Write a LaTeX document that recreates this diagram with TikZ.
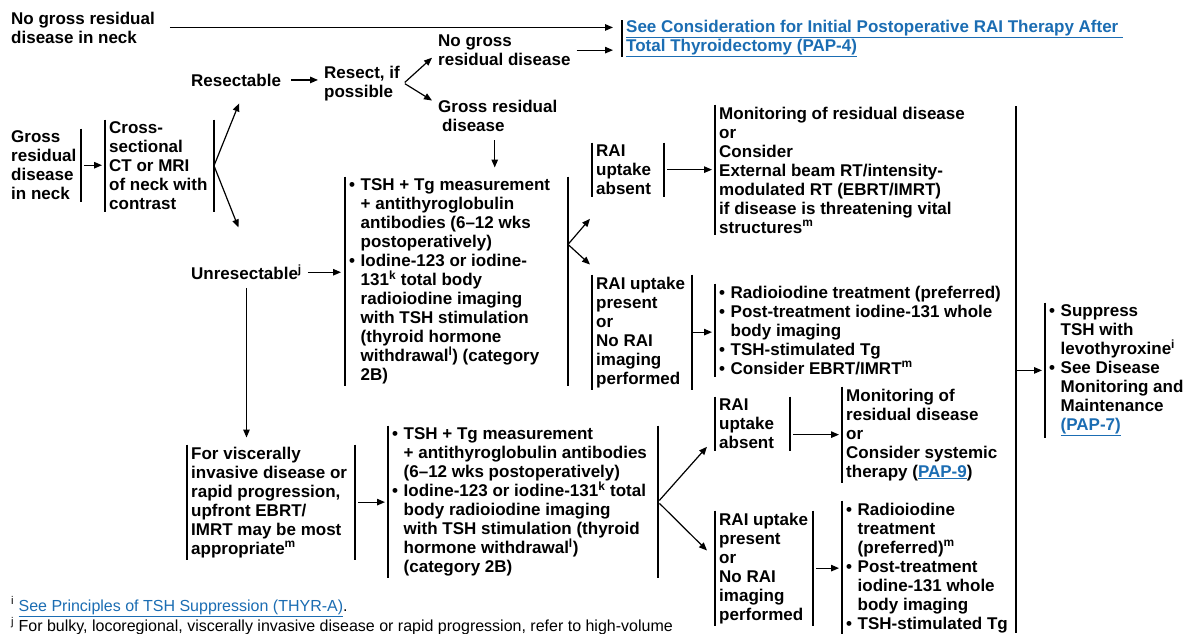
\documentclass[tikz,border=0pt]{standalone}
\usepackage{fontspec}
\setmainfont{Liberation Sans}
\usepackage{tikz}
\usetikzlibrary{arrows.meta,calc}
\definecolor{linkblue}{HTML}{1B6DB3}
\newcommand{\lnk}[1]{\textcolor{linkblue}{\underline{#1}}}
\newlength{\bulw}\setlength{\bulw}{11.5pt}
\newcommand{\itm}{\makebox[\bulw][l]{\textbullet}}
\newcommand{\ind}{\hspace*{\bulw}}
\newcommand{\sups}[1]{\textsuperscript{#1}}
\tikzset{
  txt/.style={
    anchor=north west,
    align=left,
    inner xsep=4pt,
    inner ysep=2pt,
    font=\fontsize{17}{19}\selectfont\bfseries
  },
  bar/.style={draw, line width=1.4pt},
  lbar/.style={
    txt,
    append after command={(\tikzlastnode.north west) edge[bar] (\tikzlastnode.south west)}
  },
  rbar/.style={
    txt,
    append after command={([xshift=#1]\tikzlastnode.north west) edge[bar] ([xshift=#1]\tikzlastnode.south west)
      ([xshift=#1]\tikzlastnode.west) coordinate (\tikzlastnode-r)}
  },
  bars/.style={lbar, rbar=#1},
  arr/.style={-{Triangle[length=8pt,width=6.5pt]}, line width=1.2pt, shorten <=3pt, shorten >=3pt}
}

\begin{document}
\begin{tikzpicture}[x=1pt, y=-1pt]
\useasboundingbox[fill=white] (0,0) rectangle (1199,633);

\node[txt] (nogross) at (7,9.5) {No gross residual\\disease in neck};
\node[lbar, inner ysep=0pt] (pap4) at (622,20) {\lnk{See Consideration for Initial Postoperative RAI Therapy After }\\\lnk{Total Thyroidectomy (PAP-4)}};

\node[txt] (resectable) at (187,71.5) {Resectable};
\node[txt] (resect) at (320,63.5) {Resect, if\\possible};
\node[txt] (ngres) at (434,32.5) {No gross\\residual disease};
\node[txt] (gres) at (434,97.5) {Gross residual\\\hspace*{4pt}disease};

\node[rbar=74pt] (gross) at (7,128.5) {Gross\\residual\\disease\\in neck};
\node[bars=109pt] (ct) at (105,119.5) {Cross-\\sectional\\CT or MRI\\of neck with\\contrast};
\node[txt] (unres) at (187,262.5) {Unresectable\sups{j}};

\node[bars=223pt] (tsh1) at (345,176.5) {\itm TSH + Tg measurement\\\ind + antithyroglobulin\\\ind antibodies (6--12 wks\\\ind postoperatively)\\\itm Iodine-123 or iodine-\\\ind 131\sups{k} total body\\\ind radioiodine imaging\\\ind with TSH stimulation\\\ind (thyroid hormone\\\ind withdrawal\sups{l}) (category\\\ind 2B)};

\node[bars=72pt] (rai1) at (592,142.5) {RAI\\uptake\\absent};
\node[lbar] (mon1) at (715,104.5) {Monitoring of residual disease\\or\\Consider\\External beam RT/intensity-\\modulated RT (EBRT/IMRT)\\if disease is threatening vital\\structures\sups{m}};
\node[bars=100pt] (raip1) at (592,274.5) {RAI uptake\\present\\or\\No RAI\\imaging\\performed};
\node[lbar] (rad1) at (715,283.5) {\itm Radioiodine treatment (preferred)\\\itm Post-treatment iodine-131 whole\\\ind body imaging\\\itm TSH-stimulated Tg\\\itm Consider EBRT/IMRT\sups{m}};

\coordinate (coltop) at (1016,106);
\coordinate (colbot) at (1016,633);
\node[lbar] (supp) at (1045,302.5) {\itm Suppress\\\ind TSH with\\\ind levothyroxine\sups{i}\\\itm See Disease\\\ind Monitoring and\\\ind Maintenance\\\ind\lnk{(PAP-7)}};

\node[bars=168pt] (visc) at (187,444.5) {For viscerally\\invasive disease or\\rapid progression,\\upfront EBRT/\\IMRT may be most\\appropriate\sups{m}};
\node[bars=270pt] (tsh2) at (388,425.5) {\itm TSH + Tg measurement\\\ind + antithyroglobulin antibodies\\\ind (6--12 wks postoperatively)\\\itm Iodine-123 or iodine-131\sups{k} total\\\ind body radioiodine imaging\\\ind with TSH stimulation (thyroid\\\ind hormone withdrawal\sups{l})\\\ind (category 2B)};

\node[bars=75pt] (rai2) at (715,396.5) {RAI\\uptake\\absent};
\node[lbar] (mon2) at (842,386.5) {Monitoring of\\residual disease\\or\\Consider systemic\\therapy (\lnk{PAP-9})};
\node[bars=98pt] (raip2) at (715,510.5) {RAI uptake\\present\\or\\No RAI\\imaging\\performed};
\node[lbar] (rad2) at (842,500.5) {\itm Radioiodine\\\ind treatment\\\ind (preferred)\sups{m}\\\itm Post-treatment\\\ind iodine-131 whole\\\ind body imaging\\\itm TSH-stimulated Tg};

\node[anchor=north west, align=left, inner sep=0pt, font=\fontsize{16}{17}\selectfont] (notes) at (11,596.5) {\sups{i} \lnk{See Principles of TSH Suppression (THYR-A)}.\\\sups{j} For bulky, locoregional, viscerally invasive disease or rapid progression, refer to high-volume};

\draw[arr, shorten <=11pt, shorten >=9pt] (nogross.east) -- (nogross.east -| pap4.west);
\draw[arr, shorten <=2pt, shorten >=9pt] (ngres.east) -- (ngres.east -| pap4.west);
\draw[arr, shorten <=6pt, shorten >=2pt] (resectable.east) -- (resectable.east -| resect.west);
\draw[arr, shorten <=1pt, shorten >=0pt] (resect.east) -- ($(ngres.south west)+(-2,-10)$);
\draw[arr, shorten <=1pt, shorten >=0pt] (resect.east) -- ($(gres.north west)+(-2,3)$);
\draw[arr, shorten <=7pt, shorten >=9pt] ([xshift=-3pt]gres.south) -- ([xshift=-3pt]gres.south |- tsh1.north);
\draw[arr] (gross-r) -- (gross-r -| ct.west);
\draw[arr, shorten <=1pt, shorten >=0pt] (ct-r) -- ($(resectable.south)+(3,15)$);
\draw[arr, shorten <=1pt, shorten >=0pt] (ct-r) -- ($(unres.north)+(-8,-35)$);
\draw[arr, shorten <=2pt, shorten >=4pt] (unres.east) -- (unres.east -| tsh1.west);
\draw[arr, shorten <=6pt, shorten >=7pt] (unres.south) -- (unres.south |- visc.north);
\draw[arr, shorten <=0pt, shorten >=0pt] ($(tsh1-r)+(0,-37)$) -- ($(rai1.south west)+(-2,22)$);
\draw[arr, shorten <=0pt, shorten >=0pt] ($(tsh1-r)+(0,-37)$) -- ($(raip1.north west)+(-2,-10)$);
\draw[arr] (rai1-r) -- (rai1-r -| mon1.west);
\draw[arr, shorten <=0pt] (raip1-r) -- (raip1-r -| rad1.west);
\draw[bar] (coltop) -- (colbot);
\draw[arr, shorten <=0pt] (supp.west -| coltop) -- (supp.west);
\draw[arr] (visc-r) -- (visc-r -| tsh2.west);
\draw[arr, shorten <=2pt, shorten >=0pt] (tsh2-r) -- ($(rai2.south west)+(-8,-4)$);
\draw[arr, shorten <=2pt, shorten >=0pt] (tsh2-r) -- ($(raip2.north west)+(-8,40)$);
\draw[arr] (rai2-r |- mon2.west) -- (mon2.west);
\draw[arr] (raip2-r) -- (raip2-r -| rad2.west);

\end{tikzpicture}
\end{document}
